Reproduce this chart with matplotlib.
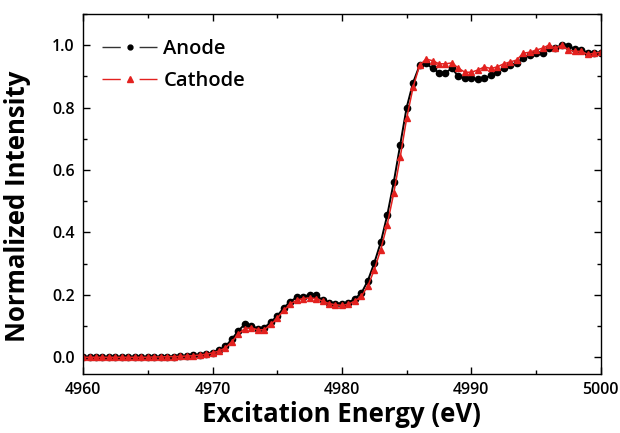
import numpy as np
import matplotlib.pyplot as plt
from matplotlib.lines import Line2D
from matplotlib.ticker import MultipleLocator

# Energy grid (eV), 0.5 eV steps
energy = np.arange(4960.0, 5000.01, 0.5)

anode = [
    0.000, 0.000, 0.000, 0.000, 0.000, 0.000, 0.000, 0.000, 0.000, 0.000,  # 4960-4964.5
    0.000, 0.001, 0.001, 0.002, 0.002, 0.003, 0.004, 0.006, 0.008, 0.011,  # 4965-4969.5
    0.015, 0.022, 0.035, 0.058, 0.085, 0.106, 0.101, 0.092, 0.094, 0.113,  # 4970-4974.5
    0.132, 0.158, 0.178, 0.192, 0.194, 0.200, 0.200, 0.182, 0.174, 0.172,  # 4975-4979.5
    0.172, 0.174, 0.188, 0.205, 0.245, 0.302, 0.368, 0.455, 0.560, 0.680,  # 4980-4984.5
    0.800, 0.880, 0.935, 0.942, 0.925, 0.912, 0.912, 0.925, 0.900, 0.893,  # 4985-4989.5
    0.893, 0.890, 0.893, 0.903, 0.913, 0.926, 0.936, 0.942, 0.960, 0.968,  # 4990-4994.5
    0.974, 0.975, 0.990, 0.990, 1.000, 0.997, 0.988, 0.985, 0.975, 0.975,  # 4995-4999.5
    0.975,                                                                 # 5000
]

cathode = [
    0.000, 0.000, 0.000, 0.000, 0.000, 0.000, 0.000, 0.000, 0.000, 0.000,
    0.000, 0.001, 0.001, 0.002, 0.002, 0.003, 0.004, 0.005, 0.007, 0.010,
    0.014, 0.020, 0.030, 0.050, 0.075, 0.092, 0.094, 0.088, 0.088, 0.105,
    0.125, 0.150, 0.170, 0.183, 0.188, 0.190, 0.188, 0.180, 0.172, 0.168,
    0.166, 0.170, 0.180, 0.195, 0.228, 0.280, 0.345, 0.425, 0.525, 0.640,
    0.765, 0.865, 0.935, 0.955, 0.950, 0.940, 0.940, 0.943, 0.926, 0.913,
    0.913, 0.920, 0.930, 0.925, 0.930, 0.940, 0.946, 0.952, 0.974, 0.977,
    0.984, 0.990, 1.000, 0.990, 1.000, 0.984, 0.980, 0.980, 0.970, 0.974,
    0.977,
]

RED = '#e3211f'

plt.rcParams['font.family'] = ['Open Sans', 'DejaVu Sans']

fig = plt.figure(figsize=(6.2, 4.33), dpi=100)
ax = fig.add_axes([0.134, 0.136, 0.835, 0.832])

ax.plot(energy, anode, '-o', color='black', lw=1.4, ms=4.5)
ax.plot(energy, cathode, '-^', color=RED, lw=1.1, ms=5)

ax.set_xlim(4960, 5000)
ax.set_ylim(-0.054, 1.1)
ax.xaxis.set_major_locator(MultipleLocator(10))
ax.xaxis.set_minor_locator(MultipleLocator(5))
ax.yaxis.set_major_locator(MultipleLocator(0.2))
ax.yaxis.set_minor_locator(MultipleLocator(0.1))
ax.yaxis.set_major_formatter(plt.FuncFormatter('{:.1f}'.format))

ax.tick_params(which='both', direction='in', top=True, right=True, width=1.0)
ax.tick_params(which='major', length=5, labelsize=11.5, pad=6)
ax.tick_params(which='minor', length=3)
for lab in ax.get_xticklabels() + ax.get_yticklabels():
    lab.set_fontweight('semibold')
for sp in ax.spines.values():
    sp.set_linewidth(1.0)

ax.set_xlabel('Excitation Energy (eV)', fontsize=18.5, fontweight='bold', labelpad=2)
ax.set_ylabel('Normalized Intensity', fontsize=18.5, fontweight='bold', labelpad=8)
ax.yaxis.set_label_coords(-0.1, 0.467)

# legend handles: line - gap - marker - gap - line
fs = 14.5
hl = 2.75
seg_lw = 1.0
total = hl * fs / seg_lw
dash = total * 0.33
gap = total - 2 * dash
handles = [
    Line2D([], [], color='#333333', lw=seg_lw, marker='o', ms=3.5,
           markerfacecolor='black', markeredgecolor='black',
           linestyle=(0, (dash, gap, dash, 1000))),
    Line2D([], [], color=RED, lw=seg_lw, marker='^', ms=4.5,
           linestyle=(0, (dash, gap, dash, 1000))),
]
leg = ax.legend(handles, ['Anode', 'Cathode'], loc='upper left', frameon=False,
                fontsize=fs, handlelength=hl, handletextpad=0.3,
                bbox_to_anchor=(0.021, 0.952), borderaxespad=0,
                labelspacing=0.6, numpoints=1)
for t in leg.get_texts():
    t.set_fontweight('semibold')

fig.savefig('out.png', dpi=100)
